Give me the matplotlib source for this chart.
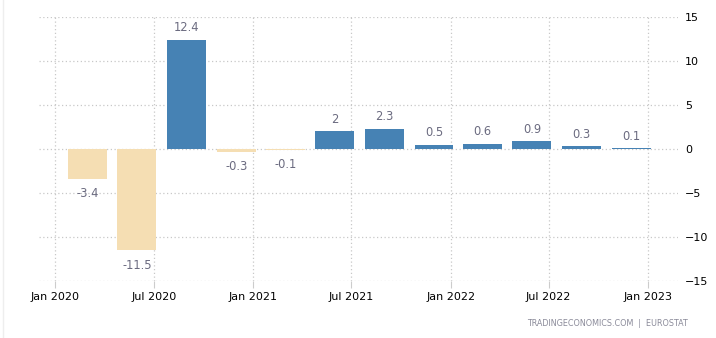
import pandas as pd
import matplotlib.pyplot as plt
import matplotlib.dates as mdates
from matplotlib.lines import Line2D

# Quarterly GDP growth (%, q/q)
quarters = ['2020Q1', '2020Q2', '2020Q3', '2020Q4',
            '2021Q1', '2021Q2', '2021Q3', '2021Q4',
            '2022Q1', '2022Q2', '2022Q3', '2022Q4']
growth = [-3.4, -11.5, 12.4, -0.3, -0.1, 2, 2.3, 0.5, 0.6, 0.9, 0.3, 0.1]

# bars sit one month before the end of each quarter
ends = pd.PeriodIndex(quarters, freq='Q').end_time.normalize()
centers = ends - pd.Timedelta(days=30)
colors = ['#4682B4' if v > 0 else '#F5DEB3' for v in growth]

fig = plt.figure(figsize=(7.16, 3.38), dpi=100)
ax = fig.add_axes([39/716, 1 - 281/338, (678 - 39)/716, (281 - 17)/338])

ax.bar(centers, growth, width=72, color=colors, zorder=2)

for d, v in zip(centers, growth):
    off = 12 if v > 0 else -15
    ax.annotate(f"{v:g}", xy=(d, v), xytext=(0, off * 0.72), textcoords="offset points",
                ha="center", va="center", fontsize=8.3, color="#6b6b80")

ax.set_xlim(pd.Timestamp('2019-12-02'), pd.Timestamp('2023-02-25'))
ax.set_ylim(-15, 15)
ax.set_yticks([-15, -10, -5, 0, 5, 10, 15])
ax.xaxis.set_major_locator(mdates.MonthLocator(bymonth=[1, 7]))
ax.xaxis.set_major_formatter(mdates.DateFormatter("%b %Y"))

ax.yaxis.tick_right()
ax.tick_params(axis='y', length=0, pad=5, labelsize=8, labelcolor='black')
ax.tick_params(axis='x', length=5, color='#cccccc', pad=3, labelsize=8, labelcolor='black')

ax.grid(True, linestyle=(0, (1, 2)), color='#c8c8c8', linewidth=0.9, zorder=0)
ax.set_axisbelow(True)
for s in ax.spines.values():
    s.set_visible(False)

fig.text(688/716, 1 - 323/338, "TRADINGECONOMICS.COM  |  EUROSTAT",
         ha="right", va="center", fontsize=5.8, color="#8a8a99")

# thin frame line on the left side
fig.add_artist(Line2D([3/716, 3/716], [0, 1], color='#eeeeee', linewidth=1))

fig.savefig("out.png", dpi=100)
